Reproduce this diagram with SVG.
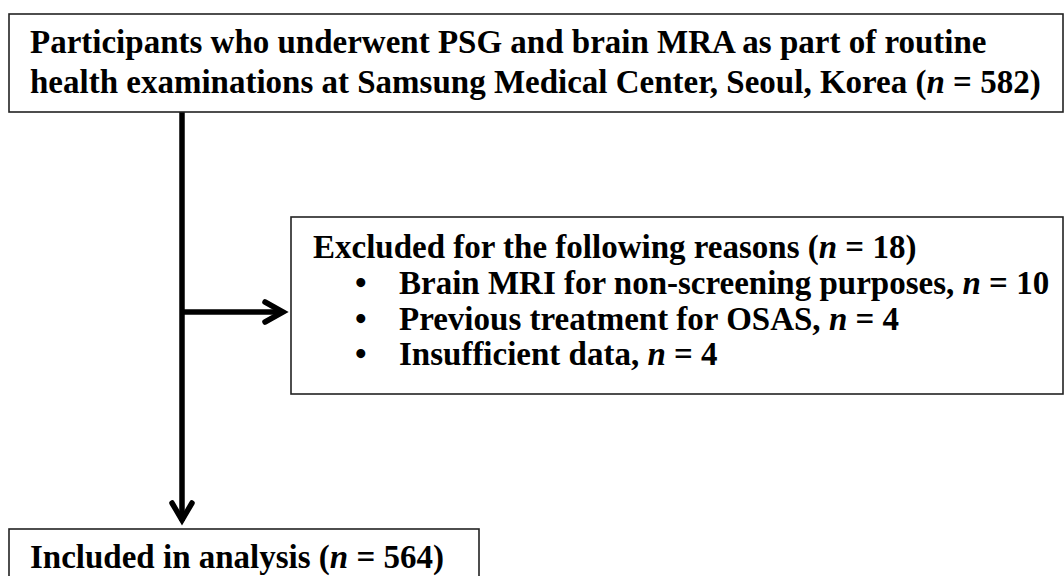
<svg xmlns="http://www.w3.org/2000/svg" width="1064" height="576" viewBox="0 0 1064 576">
<style>
.box{fill:#fff;stroke:#222;stroke-width:1.6}
.t{font-family:"Liberation Serif","Times New Roman",serif;font-size:33px;font-weight:bold;fill:#000}
.i{font-style:italic}
.ln{fill:none;stroke:#000;stroke-width:5.5}
.ah{fill:none;stroke:#000;stroke-width:5.5;stroke-linecap:round;stroke-linejoin:miter}
</style>
<rect width="1064" height="576" fill="#fff"/>
<g id="connectors">
<line class="ln" x1="182" y1="112" x2="182" y2="521"/>
<polyline class="ah" points="172,503 182,520 192,503"/>
<line class="ln" x1="182" y1="312" x2="283" y2="312"/>
<polyline class="ah" points="265,302 283,312 265,322"/>
</g>
<g id="node-participants">
<rect class="box" x="9" y="14" width="1054" height="98"/>
<text class="t" x="30" y="53">Participants who underwent PSG and brain MRA as part of routine</text>
<text class="t" x="30" y="93">health examinations at Samsung Medical Center, Seoul, Korea (<tspan class="i">n</tspan> = 582)</text>
</g>
<g id="node-excluded">
<rect class="box" x="291" y="217" width="772" height="177"/>
<text class="t" x="313" y="258">Excluded for the following reasons (<tspan class="i">n</tspan> = 18)</text>
<text class="t" x="355" y="294">•</text>
<text class="t" x="399" y="294">Brain MRI for non-screening purposes, <tspan class="i">n</tspan> = 10</text>
<text class="t" x="355" y="330">•</text>
<text class="t" x="399" y="330">Previous treatment for OSAS, <tspan class="i">n</tspan> = 4</text>
<text class="t" x="355" y="365">•</text>
<text class="t" x="399" y="365">Insufficient data, <tspan class="i">n</tspan> = 4</text>
</g>
<g id="node-included">
<rect class="box" x="9" y="529" width="470" height="60"/>
<text class="t" x="30" y="568">Included in analysis (<tspan class="i">n</tspan> = 564)</text>
</g>
</svg>
